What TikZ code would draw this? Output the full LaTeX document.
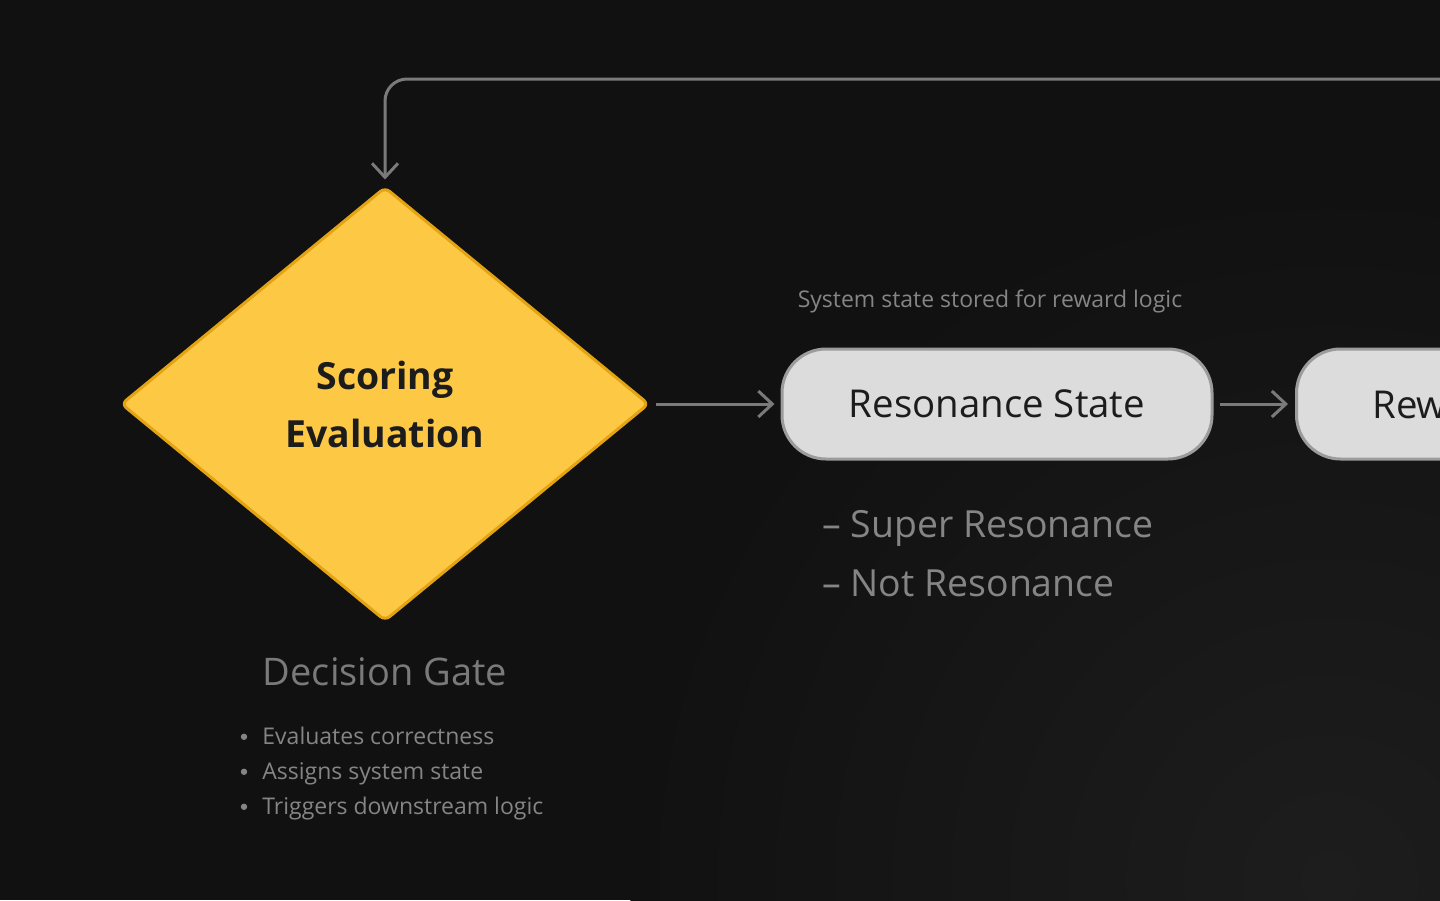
\documentclass[tikz,border=0pt]{standalone}
\usepackage{fontspec}
\setmainfont{Open Sans}
\usetikzlibrary{arrows.meta, positioning, shapes.geometric}

\definecolor{bgdark}{HTML}{111111}
\definecolor{bgglow}{HTML}{1D1D1D}
\definecolor{gateyellow}{HTML}{FDC944}
\definecolor{gateedge}{HTML}{E3A312}
\definecolor{boxfill}{HTML}{DCDCDC}
\definecolor{boxedge}{HTML}{9C9C9C}
\definecolor{linkgray}{HTML}{7A7A7A}
\definecolor{notegray}{HTML}{858585}
\definecolor{inkdark}{HTML}{1C1C1C}

\begin{document}
\begin{tikzpicture}[x=0.5pt, y=-0.5pt,
  link/.style={draw=linkgray, line width=1.5pt,
    -{Straight Barb[length=7pt, width=13pt, line width=1.5pt]}},
  gatebox/.style={diamond, draw=gateedge, line width=1.5pt, fill=gateyellow,
    rounded corners=3pt, inner sep=0pt, minimum width=264pt, minimum height=217pt,
    text=inkdark, font=\bfseries\fontsize{18.7}{29}\selectfont, align=center},
  statebox/.style={rectangle, draw=boxedge, line width=1.5pt, fill=boxfill,
    rounded corners=22pt, minimum height=55pt, text=inkdark,
    font=\fontsize{19.2}{23}\selectfont},
  plaintext/.style={inner sep=0pt, text=notegray}]

  % Canvas
  \fill[bgdark] (0,0) rectangle (1440,900);
  \clip (0,0) rectangle (1440,900);
  \shade[inner color=bgglow, outer color=bgdark] (1330,880) circle (700);

  % Decision diamond and state boxes
  \node[gatebox] (gate) at (385,404) {Scoring\\Evaluation};
  \node[statebox, minimum width=215pt] (state) at (997,404) {Resonance State};
  \node[statebox, minimum width=143pt, anchor=west] (reward) at (1295,404) {Reward};

  % Connectors
  \coordinate (loopin) at (1460,79);
  \draw[link, rounded corners=11pt, shorten >=3pt] (loopin) -| (gate.north);
  \draw[link, shorten <=2.5pt, shorten >=3pt] (gate.east) -- (state.west);
  \draw[link, shorten <=3pt, shorten >=3.5pt] (state.east) -- (reward.west);

  % Notes
  \node[plaintext, anchor=base, font=\fontsize{11.5}{14}\selectfont]
    (statenote) at (990,307) {System state stored for reward logic};
  \node[plaintext, anchor=base west, font=\fontsize{18.7}{22}\selectfont]
    (superres) at (822,537) {– Super Resonance};
  \node[plaintext, anchor=base west, font=\fontsize{18.7}{22}\selectfont]
    (notres) at (822,596) {– Not Resonance};

  \node[plaintext, anchor=base, text=linkgray, font=\fontsize{19}{23}\selectfont]
    (gatetitle) at (385,685) {Decision Gate};
  \foreach \txt [count=\i] in {Evaluates correctness, Assigns system state,
      Triggers downstream logic} {
    \node[plaintext, anchor=base west, font=\fontsize{11.5}{14}\selectfont]
      (item\i) at (262,709+35*\i) {\txt};
    \fill[notegray] ([xshift=-9pt, yshift=3.6pt]item\i.base west) circle (1.6pt);
  }
\end{tikzpicture}
\end{document}
